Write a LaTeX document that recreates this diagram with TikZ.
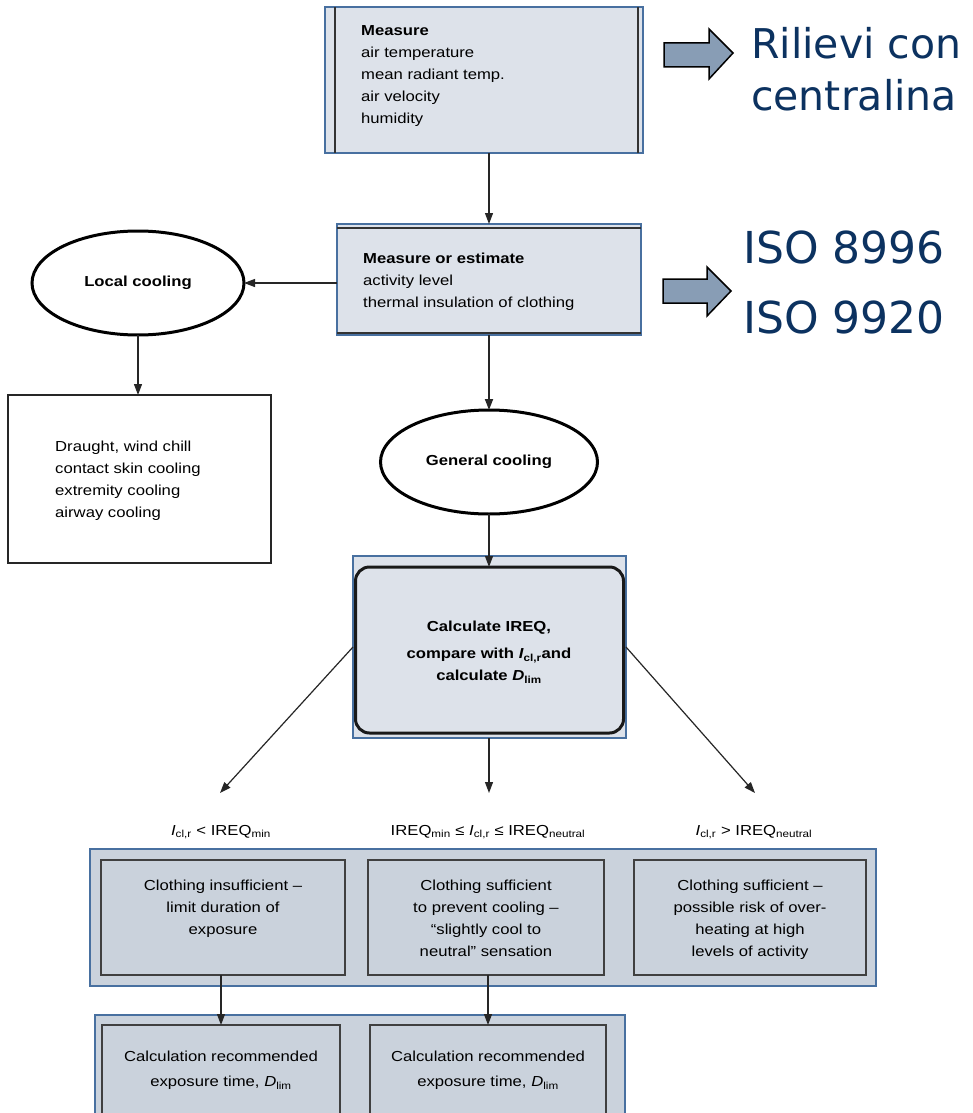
\documentclass[tikz,border=0pt]{standalone}
\usepackage{fontspec}
\setmainfont[FakeStretch=1.15]{Liberation Sans}
\newfontfamily\verd{DejaVu Sans}
\usetikzlibrary{arrows.meta,shapes.geometric}
\definecolor{boxfill}{RGB}{221,226,234}
\definecolor{boxfilltwo}{RGB}{202,210,220}
\definecolor{bluebd}{RGB}{72,112,160}
\definecolor{arrfill}{RGB}{136,157,181}
\definecolor{navy}{RGB}{12,50,96}
\begin{document}
\begin{tikzpicture}[x=1pt,y=-1pt,
  obox/.style={draw=bluebd, line width=1.6, fill=boxfill, inner sep=0, outer sep=0},
  oboxtwo/.style={obox, fill=boxfilltwo},
  ibox/.style={draw=black!75, line width=1.2, fill=boxfilltwo, inner sep=0, outer sep=0},
  plainbox/.style={draw=black!85, line width=1.2, fill=white, inner sep=0, outer sep=0},
  ink/.style={draw=black!80, line width=1.2},
  arr/.style={draw=black!85, line width=1.2, -{Triangle[length=11pt,width=8pt]}},
  txt/.style={inner sep=0, align=left, font=\fontsize{14.5}{22}\selectfont, anchor=north west},
  ctxt/.style={inner sep=0, align=center, font=\fontsize{14.5}{22}\selectfont, anchor=north},
  lbl/.style={inner sep=0, font=\fontsize{14.5}{18}\selectfont, anchor=base},
  ell/.style={ellipse, draw=black, line width=3, fill=white, inner sep=0, outer sep=0, font=\bfseries\fontsize{14.5}{18}\selectfont},
  bigtxt/.style={text=navy, inner sep=0, align=left, anchor=north west},
  blockarr/.style={draw=black, line width=1.5, fill=arrfill, line join=miter}
]
\clip (0,0) rectangle (973,1113);
\fill[white] (0,0) rectangle (973,1113);

% Measure box
\node[obox, anchor=north west, minimum width=318, minimum height=146] (meas) at (325,7) {};
\draw[ink] ([xshift=10]meas.north west) -- ([xshift=10]meas.south west);
\draw[ink] ([xshift=-5]meas.north east) -- ([xshift=-5]meas.south east);
\node[txt] (meastxt) at (361,25.5) {\textbf{Measure}\\air temperature\\mean radiant temp.\\air velocity\\humidity};

% Measure or estimate box
\node[obox, anchor=north west, minimum width=304, minimum height=111] (est) at (337,224) {};
\draw[ink] ([yshift=-4]est.north west) -- ([yshift=-4]est.north east);
\draw[ink] ([yshift=2]est.south west) -- ([yshift=2]est.south east);
\node[txt] (esttxt) at (363,253) {\textbf{Measure or estimate}\\activity level\\thermal insulation of clothing};
\draw[arr] (est.north |- meas.south) -- (est.north);

% Right-hand notes
\draw[blockarr] (664,43) -- (709,43) -- (709,29) -- (733,53) -- (709,79) -- (709,67) -- (664,67) -- cycle;
\node[bigtxt, font=\verd\fontsize{41}{52}\selectfont] (ril) at (751,27) {Rilievi con\\centralina};
\draw[blockarr] (663,279) -- (707,279) -- (707,267) -- (731,291) -- (707,316) -- (707,303) -- (663,303) -- cycle;
\node[bigtxt, font=\verd\fontsize{44}{70}\selectfont] (iso) at (743,231) {ISO 8996\\ISO 9920};

% Local cooling
\node[ell, minimum width=212, minimum height=104] (loc) at (138,283) {Local cooling};
\draw[arr] (est.west |- loc.east) -- (loc.east);
\node[plainbox, anchor=north west, minimum width=263, minimum height=168] (lbox) at (8,395) {};
\draw[arr] (loc.south) -- (lbox.north -| loc.south);
\node[txt] (lboxtxt) at (55,441) {Draught, wind chill\\contact skin cooling\\extremity cooling\\airway cooling};

% General cooling
\node[ell, minimum width=217, minimum height=104] (gen) at (489,462) {General cooling};
\draw[arr, line width=1.8] (est.south -| gen.north) -- (gen.north);

% Calculate box
\node[obox, anchor=north west, minimum width=273, minimum height=182] (calcout) at (353,556) {};
\node[draw=black!90, line width=3, rounded corners=14, fill=boxfill, inner sep=0, outer sep=0, minimum width=268, minimum height=166, anchor=north west] (calc) at (355.5,567) {};
\node[ctxt, font=\bfseries\fontsize{14.5}{22}\selectfont] (calctxt) at (489,621) {Calculate IREQ,\\[5pt]compare with \textit{I}\textsubscript{cl,r}and\\calculate \textit{D}\textsubscript{lim}};
\draw[arr] (gen.south) -- (calc.north -| gen.south);

\coordinate (lA) at (220,793);
\coordinate (mA) at (489,793);
\coordinate (rA) at (755,793);
\draw[arr] (calcout.west) -- (lA);
\draw[arr] (calcout.south -| mA) -- (mA);
\draw[arr] (calcout.east) -- (rA);

% Condition labels
\node[lbl] (lab1) at (221,835) {\textit{I}\textsubscript{cl,r} < IREQ\textsubscript{min}};
\node[lbl] (lab2) at (488,835) {IREQ\textsubscript{min} ≤ \textit{I}\textsubscript{cl,r} ≤ IREQ\textsubscript{neutral}};
\node[lbl] (lab3) at (754,835) {\textit{I}\textsubscript{cl,r} > IREQ\textsubscript{neutral}};

% Outcome boxes
\node[oboxtwo, anchor=north west, minimum width=786, minimum height=137] (big) at (90,849) {};
\node[ibox, anchor=north west, minimum width=244, minimum height=115] (c1) at (101,860) {};
\node[ibox, anchor=north west, minimum width=236, minimum height=115] (c2) at (368,860) {};
\node[ibox, anchor=north west, minimum width=232, minimum height=115] (c3) at (634,860) {};
\node[ctxt] (c1txt) at (223,880) {Clothing insufficient –\\limit duration of\\exposure};
\node[ctxt] (c2txt) at (486,880) {Clothing sufficient\\to prevent cooling –\\“slightly cool to\\neutral” sensation};
\node[ctxt] (c3txt) at (750,880) {Clothing sufficient –\\possible risk of over-\\heating at high\\levels of activity};

% Bottom boxes
\node[oboxtwo, anchor=north west, minimum width=530, minimum height=120] (bot) at (95,1015) {};
\node[ibox, anchor=north west, minimum width=238, minimum height=110] (d1) at (102,1025) {};
\node[ibox, anchor=north west, minimum width=236, minimum height=110] (d2) at (370,1025) {};
\draw[arr] (c1.south -| d1.north) -- (d1.north);
\draw[arr] (c2.south -| d2.north) -- (d2.north);
\node[ctxt, font=\fontsize{14.5}{25}\selectfont] (d1txt) at (221,1051) {Calculation recommended\\exposure time,  \textit{D}\textsubscript{lim}};
\node[ctxt, font=\fontsize{14.5}{25}\selectfont] (d2txt) at (488,1051) {Calculation recommended\\exposure time,  \textit{D}\textsubscript{lim}};
\end{tikzpicture}
\end{document}
